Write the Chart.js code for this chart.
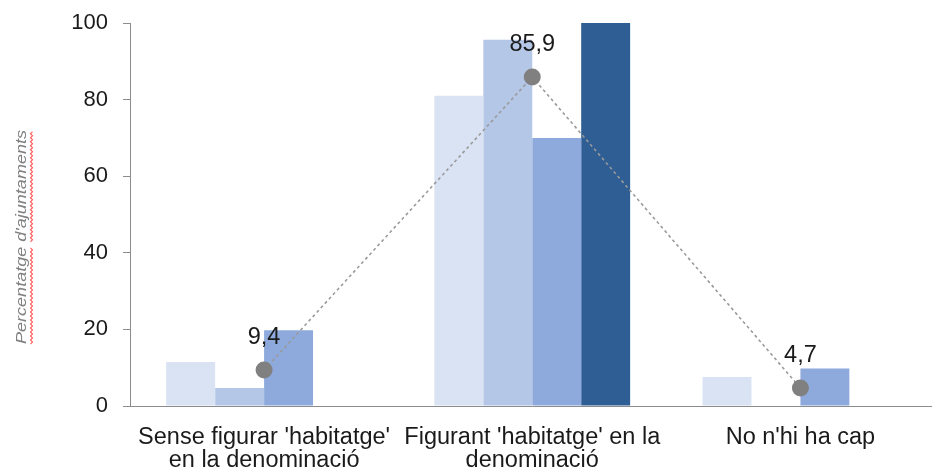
<!DOCTYPE html>
<html>
<head>
<meta charset="utf-8">
<script src="https://cdn.jsdelivr.net/npm/chart.js@4/dist/chart.umd.min.js"></script>
<style>
html,body{margin:0;padding:0;background:#fff;overflow:hidden;}
canvas{display:block;}
</style>
</head>
<body>
<canvas id="c" width="943" height="472" style="width:943px;height:472px"></canvas>
<script>
const categories = [["Sense figurar 'habitatge'", "en la denominació"], ["Figurant 'habitatge' en la", "denominació"], "No n'hi ha cap"];
const series1 = [11.5, 81, 7.6];
const series2 = [4.7, 95.6, 0];
const series3 = [19.8, 70, 9.8];
const series4 = [0, 100, 0];
const totalLine = [9.4, 85.9, 4.7];
const totalLabels = ["9,4", "85,9", "4,7"];
const yTicks = [0, 20, 40, 60, 80, 100];
const yTitle = "Percentatge d'ajuntaments";

const FONT = '"Liberation Sans", Arial, sans-serif';

const overlay = {
  id: 'overlay',
  afterDatasetsDraw(chart) {
    const ctx = chart.ctx;
    const meta = chart.getDatasetMeta(0);
    ctx.save();
    ctx.font = '23.5px ' + FONT;
    ctx.fillStyle = '#1a1a1a';
    ctx.textAlign = 'center';
    ctx.textBaseline = 'middle';
    meta.data.forEach((pt, i) => {
      ctx.fillText(totalLabels[i], pt.x, pt.y - 32);
    });
    ctx.restore();
  },
  afterDraw(chart) {
    const ctx = chart.ctx;
    ctx.save();
    const cy = 237, baseX = 26, target = 214;
    ctx.font = 'italic 14px ' + FONT;
    const w = ctx.measureText(yTitle).width;
    const s = target / w;
    ctx.translate(baseX, cy);
    ctx.rotate(-Math.PI / 2);
    ctx.scale(s, 1);
    ctx.fillStyle = '#808080';
    ctx.textAlign = 'left';
    ctx.textBaseline = 'alphabetic';
    ctx.fillText(yTitle, -w / 2, 0);
    const words = yTitle.split(' ');
    let pos = -w / 2;
    ctx.strokeStyle = '#ff5a5a';
    ctx.lineWidth = 1;
    words.forEach((wd) => {
      const ww = ctx.measureText(wd).width;
      ctx.beginPath();
      let up = true, first = true;
      for (let u = pos; u <= pos + ww; u += 2 / s) {
        const v = up ? 4.5 : 6.5;
        if (first) { ctx.moveTo(u, v); first = false; } else ctx.lineTo(u, v);
        up = !up;
      }
      ctx.stroke();
      pos += ww + ctx.measureText(' ').width;
    });
    ctx.restore();
  }
};

new Chart(document.getElementById('c'), {
  data: {
    labels: categories,
    datasets: [
      {type: 'line', data: totalLine, order: 0, borderColor: '#9a9a9a', borderWidth: 1.6, borderDash: [3, 3],
        pointRadius: 8.5, pointBackgroundColor: '#808080', pointBorderColor: '#808080', pointBorderWidth: 0, fill: false, tension: 0},
      {type: 'bar', data: series1, order: 1, backgroundColor: '#dae3f3'},
      {type: 'bar', data: series2, order: 1, backgroundColor: '#b4c7e7'},
      {type: 'bar', data: series3, order: 1, backgroundColor: '#8eaadc'},
      {type: 'bar', data: series4, order: 1, backgroundColor: '#2e5e93'}
    ]
  },
  options: {
    responsive: false,
    animation: false,
    devicePixelRatio: 1,
    layout: {padding: {left: 0, right: 0, top: 23, bottom: 0}},
    datasets: {bar: {categoryPercentage: 0.73, barPercentage: 1.0}},
    plugins: {legend: {display: false}, tooltip: {enabled: false}},
    scales: {
      x: {
        grid: {display: false, drawTicks: false},
        border: {display: true, color: '#8c8c8c', width: 1},
        ticks: {color: '#1a1a1a', font: {size: 23.5, family: FONT, lineHeight: 0.98}, padding: 20, maxRotation: 0, autoSkip: false},
        afterFit(s) { s.height = 66; }
      },
      y: {
        min: 0, max: 100,
        afterBuildTicks(s) { s.ticks = yTicks.map(v => ({value: v})); },
        grid: {drawOnChartArea: false, drawTicks: true, tickLength: 7, color: '#8c8c8c'},
        border: {display: true, color: '#8c8c8c', width: 1},
        ticks: {color: '#1a1a1a', font: {size: 22, family: FONT}, padding: 15},
        afterFit(s) { s.width = 130; s.paddingTop = 0; s.paddingBottom = 0; }
      }
    }
  },
  plugins: [overlay]
});
</script>
</body>
</html>
